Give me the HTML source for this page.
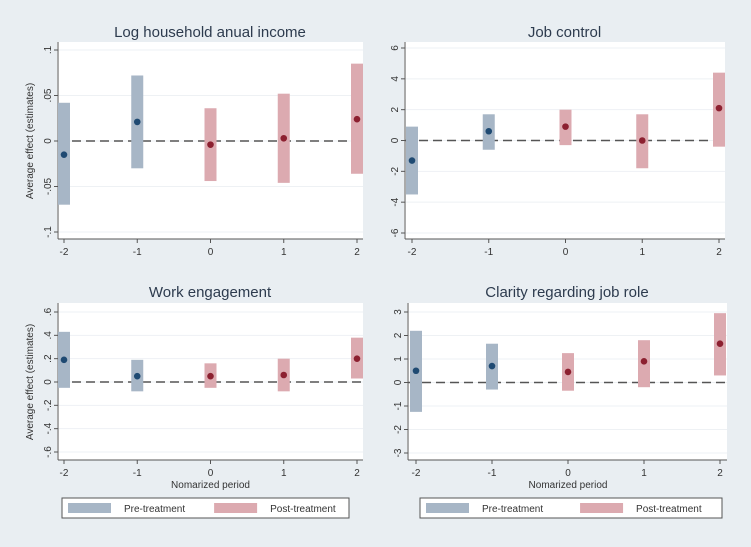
<!DOCTYPE html>
<html><head><meta charset="utf-8"><style>
html,body{margin:0;padding:0;background:#e9eef2;}
svg{display:block;font-family:"Liberation Sans",sans-serif;}
</style></head><body>
<svg id="c" width="751" height="547"></svg>
<script>
const periods = [-2,-1,0,1,2];
const incomeEst = [-0.015,0.021,-0.004,0.003,0.024];
const incomeLo = [-0.070,-0.030,-0.044,-0.046,-0.036];
const incomeHi = [0.042,0.072,0.036,0.052,0.085];
const jobEst = [-1.3,0.6,0.9,0.0,2.1];
const jobLo = [-3.5,-0.6,-0.3,-1.8,-0.4];
const jobHi = [0.9,1.7,2.0,1.7,4.4];
const engEst = [0.19,0.05,0.05,0.06,0.20];
const engLo = [-0.05,-0.08,-0.05,-0.08,0.03];
const engHi = [0.43,0.19,0.16,0.20,0.38];
const clarEst = [0.5,0.7,0.45,0.9,1.65];
const clarLo = [-1.25,-0.3,-0.35,-0.2,0.3];
const clarHi = [2.2,1.65,1.25,1.8,2.95];
const incomeTicks = [-0.1,-0.05,0,0.05,0.1];
const incomeTickLabels = ["-.1","-.05","0",".05",".1"];
const jobTicks = [-6,-4,-2,0,2,4,6];
const jobTickLabels = ["-6","-4","-2","0","2","4","6"];
const engTicks = [-0.6,-0.4,-0.2,0,0.2,0.4,0.6];
const engTickLabels = ["-.6","-.4","-.2","0",".2",".4",".6"];
const clarTicks = [-3,-2,-1,0,1,2,3];
const clarTickLabels = ["-3","-2","-1","0","1","2","3"];

const NS="http://www.w3.org/2000/svg";
const svg=document.getElementById('c');
function mk(t,a,p){const e=document.createElementNS(NS,t);for(const k in a)e.setAttribute(k,a[k]);(p||svg).appendChild(e);return e;}

const panels=[
 {name:'income',title:'Log household anual income',est:incomeEst,lo:incomeLo,hi:incomeHi,ticks:incomeTicks,labels:incomeTickLabels,
  box:[57,42,363,239],axX:58,x0:64,x1:357,ymin:-0.1,ymax:0.1,yTop:50,yBot:232,titleY:37,ylab:true,xlab:false,legend:null},
 {name:'job-control',title:'Job control',est:jobEst,lo:jobLo,hi:jobHi,ticks:jobTicks,labels:jobTickLabels,
  box:[404,42,725,239],axX:405,x0:412,x1:719,ymin:-6,ymax:6,yTop:48,yBot:233,titleY:37,ylab:false,xlab:false,legend:null},
 {name:'work-engagement',title:'Work engagement',est:engEst,lo:engLo,hi:engHi,ticks:engTicks,labels:engTickLabels,
  box:[57,303,363,460],axX:58,x0:64,x1:357,ymin:-0.6,ymax:0.6,yTop:312,yBot:452,titleY:297,ylab:true,xlab:true,legend:[62,498,349,518]},
 {name:'job-role-clarity',title:'Clarity regarding job role',est:clarEst,lo:clarLo,hi:clarHi,ticks:clarTicks,labels:clarTickLabels,
  box:[407,303,727,460],axX:408,x0:416,x1:720,ymin:-3,ymax:3,yTop:312,yBot:453,titleY:297,ylab:false,xlab:true,legend:[420,498,722,518]}
];

panels.forEach(p=>{
  const g=mk('g',{});
  
  
  const xs=v=>p.x0+(v-periods[0])*(p.x1-p.x0)/(periods[periods.length-1]-periods[0]);
  const ys=v=>p.yBot-(v-p.ymin)*(p.yBot-p.yTop)/(p.ymax-p.ymin);
  const [l,t,r,b]=p.box;
  const bg=mk('rect',{x:l,y:t,width:r-l,height:b-t,fill:'#fff'},g);
  
  const tt=mk('text',{x:(l+r)/2,y:p.titleY,'text-anchor':'middle','font-size':15,fill:'#2d3b4e'},g);
  tt.textContent=p.title;
  
  p.ticks.forEach((tv,i)=>{
    const y=ys(tv);
    const gl=mk('line',{x1:p.axX,x2:r,y1:y,y2:y,stroke:'#eef1f4','stroke-width':1},g);
    
    mk('line',{x1:p.axX-4,x2:p.axX,y1:y,y2:y,stroke:'#555'},g);
    const tl=mk('text',{x:p.axX-7,y:y,'text-anchor':'middle','font-size':10,fill:'#333',transform:`rotate(-90 ${p.axX-7} ${y})`},g);
    tl.textContent=p.labels[i];
    
  });
  mk('line',{x1:p.axX,x2:p.axX,y1:t,y2:b,stroke:'#555'},g);
  mk('line',{x1:p.axX,x2:r,y1:b,y2:b,stroke:'#555'},g);
  periods.forEach(pv=>{
    const x=xs(pv);
    mk('line',{x1:x,x2:x,y1:b,y2:b+4,stroke:'#555'},g);
    const xl=mk('text',{x:x,y:b+16,'text-anchor':'middle','font-size':10,fill:'#333'},g);
    xl.textContent=String(pv);
    
  });
  const z=mk('line',{x1:p.axX,x2:r,y1:ys(0),y2:ys(0),stroke:'#555','stroke-width':1.5,'stroke-dasharray':'9,5'},g);
  
  periods.forEach((pv,i)=>{
    const pre=pv<0;
    const x=xs(pv);
    const bar=mk('rect',{x:x-6,y:ys(p.hi[i]),width:12,height:ys(p.lo[i])-ys(p.hi[i]),fill:pre?'#a7b6c6':'#dcaab0'},g);
    
    
    const dot=mk('circle',{cx:x,cy:ys(p.est[i]),r:3.3,fill:pre?'#1f4a72':'#8c2030'},g);
    
    
  });
  if(p.ylab){
    const yx=33,yy=(p.yTop+p.yBot)/2;
    const yt=mk('text',{x:yx,y:yy,'text-anchor':'middle','font-size':10,fill:'#333',transform:`rotate(-90 ${yx} ${yy})`},g);
    yt.textContent='Average effect (estimates)';
    
  }
  if(p.xlab){
    const xt=mk('text',{x:(p.x0+p.x1)/2,y:b+28,'text-anchor':'middle','font-size':10,fill:'#333'},g);
    xt.textContent='Nomarized period';
    
  }
  if(p.legend){
    const [a,c,d,e]=p.legend;
    const lg=mk('g',{},g);
    
    mk('rect',{x:a,y:c,width:d-a,height:e-c,fill:'#fff',stroke:'#555'},lg);
    const w=d-a;
    mk('rect',{x:a+6,y:c+5,width:43,height:10,fill:'#a7b6c6'},lg);
    const t1=mk('text',{x:a+62,y:c+14,'font-size':10,fill:'#333'},lg);t1.textContent='Pre-treatment';
    
    mk('rect',{x:a+w*0.53,y:c+5,width:43,height:10,fill:'#dcaab0'},lg);
    const t2=mk('text',{x:a+w*0.53+56,y:c+14,'font-size':10,fill:'#333'},lg);t2.textContent='Post-treatment';
    
  }
});
</script>
</body></html>
